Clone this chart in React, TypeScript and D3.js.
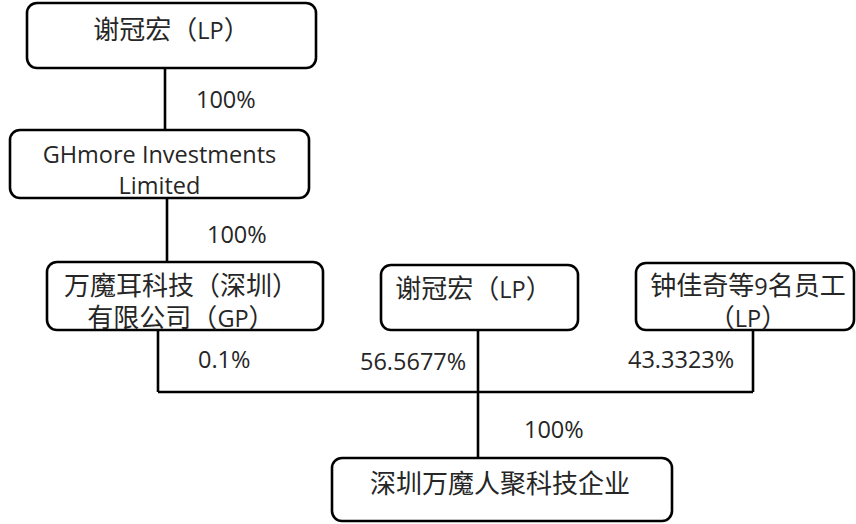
import { useMemo } from 'react'
import { line } from 'd3'

// ownership structure: entities and their stakes
const entityNames = [
  ['谢冠宏（LP）'],
  ['GHmore Investments', 'Limited'],
  ['万魔耳科技（深圳）', '有限公司（GP）'],
  ['谢冠宏（LP）'],
  ['钟佳奇等9名员工', '（LP）'],
  ['深圳万魔人聚科技企业'],
]
const holderIdx = [0, 1, 2, 3, 4]
const heldIdx = [1, 2, 5, 5, 5]
const stakes = ['100%', '100%', '0.1%', '56.5677%', '43.3323%']
const targetStake = '100%'

// layout (pixels)
const BOX = [
  { x0: 27, y0: 3, x1: 316, y1: 68, base: [39] },
  { x0: 10, y0: 130, x1: 309, y1: 198, base: [163, 194] },
  { x0: 47, y0: 262, x1: 323, y1: 330, base: [295, 327], dx: -4 },
  { x0: 381, y0: 265, x1: 578, y1: 330, base: [298], dx: -6 },
  { x0: 636, y0: 263, x1: 854, y1: 330, base: [295, 327], dx: 3 },
  { x0: 332, y0: 458, x1: 672, y1: 521, base: [493], dx: -2 },
]
const EDGE = [
  { x: 165, lx: 196, ly: 108 },
  { x: 167, lx: 207, ly: 243 },
  { x: 158, lx: 198, ly: 368 },
  { x: 478, lx: 360, ly: 370 },
  { x: 753, lx: 628, ly: 368 },
]
const BUS_Y = 392
const TRUNK = { x: 478, lx: 524, ly: 438 }

const CJK = /[\u3000-\u9fff\uff00-\uffef]+|[^\u3000-\u9fff\uff00-\uffef]+/g
const LATIN_FONT = '"Open Sans", "Noto Sans", sans-serif'
const CJK_FONT = '"Noto Sans CJK SC", sans-serif'

function Label({ text, x, y, anchor = 'middle' }: { text: string; x: number; y: number; anchor?: string }) {
  const runs = text.match(CJK) ?? []
  return (
    <text x={x} y={y} textAnchor={anchor} fill="#262626">
      {runs.map((r, i) => {
        const cjk = /[\u3000-\u9fff\uff00-\uffef]/.test(r)
        return (
          <tspan key={i} fontFamily={cjk ? CJK_FONT : LATIN_FONT} fontSize={cjk ? 26 : 23.5}>
            {r}
          </tspan>
        )
      })}
    </text>
  )
}

export default function App() {
  const paths = useMemo(() => {
    const gen = line<[number, number]>()
    return holderIdx.map((h, i) => {
      const from = BOX[h]
      const to = BOX[heldIdx[i]]
      const x = EDGE[i].x
      // edges into the target stop at the shared bus
      const yEnd = heldIdx[i] === 5 ? BUS_Y : to.y0
      return gen([
        [x, from.y1],
        [x, yEnd],
      ]) ?? ''
    })
  }, [])

  const busXs = EDGE.filter((_, i) => heldIdx[i] === 5).map((e) => e.x)
  const bus = line()([
    [Math.min(...busXs), BUS_Y],
    [Math.max(...busXs), BUS_Y],
  ]) ?? ''
  const trunk = line()([
    [TRUNK.x, BUS_Y],
    [TRUNK.x, BOX[5].y0],
  ]) ?? ''

  return (
    <svg
      width={856}
      height={524}
      style={{ position: 'absolute', left: 0, top: 0, background: '#fff' }}
    >
      <g stroke="#000" strokeWidth={2.6} fill="none">
        {paths.map((d, i) => (
          <path key={i} d={d} />
        ))}
        <path d={bus} />
        <path d={trunk} />
      </g>
      {BOX.map((b, i) => (
        <rect
          key={i}
          x={b.x0}
          y={b.y0}
          width={b.x1 - b.x0}
          height={b.y1 - b.y0}
          rx={10}
          fill="none"
          stroke="#000"
          strokeWidth={2.6}
        />
      ))}
      {entityNames.map((lines, i) =>
        lines.map((t, j) => (
          <Label
            key={`${i}-${j}`}
            text={t}
            x={(BOX[i].x0 + BOX[i].x1) / 2 + (BOX[i].dx ?? 0)}
            y={BOX[i].base[j]}
          />
        )),
      )}
      {stakes.map((s, i) => (
        <Label key={s + i} text={s} x={EDGE[i].lx} y={EDGE[i].ly} anchor="start" />
      ))}
      <Label text={targetStake} x={TRUNK.lx} y={TRUNK.ly} anchor="start" />
    </svg>
  )
}
